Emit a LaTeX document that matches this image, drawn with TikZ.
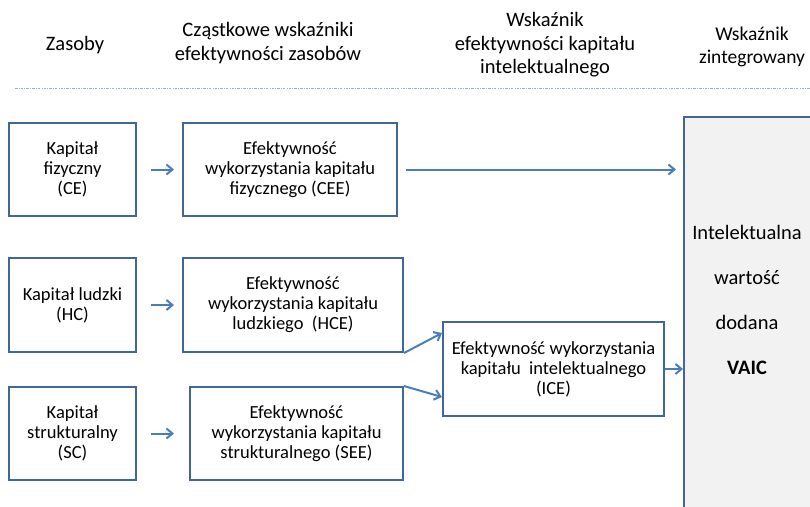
\documentclass[tikz,border=0pt]{standalone}
\usepackage{fontspec}
\setmainfont{Carlito}
\usepackage{xcolor}
\usetikzlibrary{arrows.meta,positioning,calc}

\definecolor{boxline}{HTML}{41679A}
\definecolor{arrline}{HTML}{4A7EBB}
\definecolor{sepline}{HTML}{8DB3E2}
\definecolor{vaicfill}{HTML}{F2F2F2}

\begin{document}
\begin{tikzpicture}[x=1pt, y=-1pt,
    every node/.style={font=\fontsize{18.5}{20}\selectfont, align=center},
    box/.style={draw=boxline, line width=2pt, inner sep=0pt},
    head/.style={font=\fontsize{20.5}{23.5}\selectfont},
    arr/.style={draw=arrline, line width=2pt, -{Straight Barb[length=6pt,width=10pt]}}]
    \useasboundingbox (0,0) rectangle (810,506);
    \clip (0,0) rectangle (810,506);

    % Column headers
    \node[head] (hzas) at (75,45) {Zasoby};
    \node[head] (hcz) at (268,43) {Cząstkowe wskaźniki\\efektywności zasobów};
    \node[head] (hwk) at (545,45) {Wskaźnik\\efektywności kapitału\\intelektualnego};
    \node[head, font=\fontsize{19.5}{23.5}\selectfont] (hzi) at (752,47) {Wskaźnik\\zintegrowany};

    % Separator
    \coordinate (sepa) at (15,88);
    \coordinate (sepb) at (810,88);
    \draw[sepline, line width=1pt, dash pattern=on 2.5pt off 1.2pt on 0.8pt off 1.2pt] (sepa) -- (sepb);

    % Resources
    \node[box, minimum width=127pt, minimum height=93pt] (ce) at (72.5,169.5) {Kapitał\\fizyczny\\(CE)};
    \node[box, minimum width=127pt, minimum height=94pt] (hc) at (72.5,305) {Kapitał ludzki\\(HC)};
    \node[box, minimum width=127pt, minimum height=93pt] (sc) at (72.5,433.5) {Kapitał\\strukturalny\\(SC)};

    % Partial indicators
    \node[box, minimum width=214pt, minimum height=93pt] (cee) at (290,169.5) {Efektywność\\wykorzystania kapitału\\fizycznego (CEE)};
    \node[box, minimum width=220pt, minimum height=94pt] (hce) at (293,305) {Efektywność\\wykorzystania kapitału\\ludzkiego\ \ (HCE)};
    \node[box, minimum width=213pt, minimum height=93pt] (see) at (296.5,433.5) {Efektywność\\wykorzystania kapitału\\strukturalnego (SEE)};

    % Intellectual capital indicator
    \node[box, minimum width=221pt, minimum height=94pt] (ice) at (553.5,369) {Efektywność wykorzystania\\kapitału\ \ intelektualnego\\(ICE)};

    % Integrated indicator
    \node[box, fill=vaicfill, minimum width=128pt, minimum height=395pt] (vaic) at (748,314.5) {};
    \node[font=\fontsize{20.5}{45}\selectfont] (vaictxt) at (747,300) {Intelektualna\\wartość\\dodana\\\textbf{VAIC}};

    % Arrows
    \draw[arr, shorten <=14pt, shorten >=8pt] (ce) -- (cee);
    \draw[arr, shorten <=14pt, shorten >=8pt] (hc) -- (hce);
    \draw[arr, shorten <=14pt, shorten >=15pt] (sc) -- (see);
    \draw[arr, shorten <=8pt, shorten >=7pt] (cee.east) -- (cee.east -| vaic.west);
    \draw[arr] (hce.south east) -- ([yshift=36pt]ice.west);
    \draw[arr] (see.north east) -- ([yshift=-28pt]ice.west);
    \draw[arr] (ice.east) -- (ice.east -| vaic.west);
\end{tikzpicture}
\end{document}
